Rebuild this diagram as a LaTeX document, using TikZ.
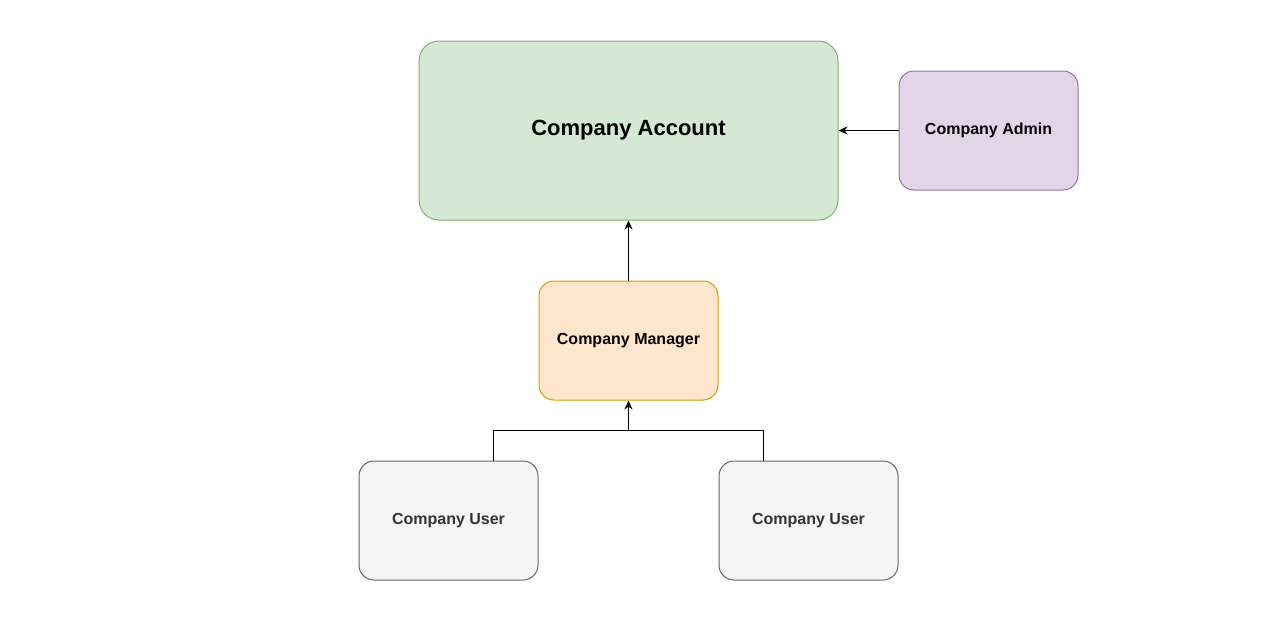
\documentclass[tikz,border=0pt]{standalone}
\usepackage{fontspec}
\setmainfont{Liberation Sans}
\usetikzlibrary{arrows.meta}
\definecolor{gF}{HTML}{D5E8D4}\definecolor{gS}{HTML}{82B366}
\definecolor{pF}{HTML}{E1D5E7}\definecolor{pS}{HTML}{9673A6}
\definecolor{oF}{HTML}{FFE6CC}\definecolor{oS}{HTML}{D79B00}
\definecolor{wF}{HTML}{F5F5F5}\definecolor{wS}{HTML}{666666}\definecolor{wT}{HTML}{333333}
\begin{document}
\begin{tikzpicture}[x=1pt,y=-1pt,
 box/.style={draw,rounded corners=15pt,line width=1pt,minimum width=179pt,minimum height=119pt,inner sep=0pt,font=\fontsize{16}{19}\selectfont\bfseries},
 arr/.style={-{Stealth[length=9pt,width=8pt]},line width=1pt}]
\useasboundingbox (0,0) rectangle (1269,635);
\node[box,fill=gF,draw=gS,minimum width=419pt,minimum height=179pt,rounded corners=20pt,font=\fontsize{22}{26}\selectfont\bfseries] (acc) at (628.5,130.5) {Company Account};
\node[box,fill=pF,draw=pS] (adm) at (988.5,130.5) {Company Admin};
\node[box,fill=oF,draw=oS] (man) at (628.5,340.5) {Company Manager};
\node[box,fill=wF,draw=wS,text=wT] (u1) at (448.5,520.5) {Company User};
\node[box,fill=wF,draw=wS,text=wT] (u2) at (808.5,520.5) {Company User};
\draw[arr] (adm.west) -- (acc.east);
\draw[arr] (man.north) -- (acc.south);
\draw[arr] (u1.north -| 493,0) |- (628.5,430) -- (man.south);
\draw[line width=1pt] (u2.north -| 763,0) |- (628.5,430);
\end{tikzpicture}
\end{document}
